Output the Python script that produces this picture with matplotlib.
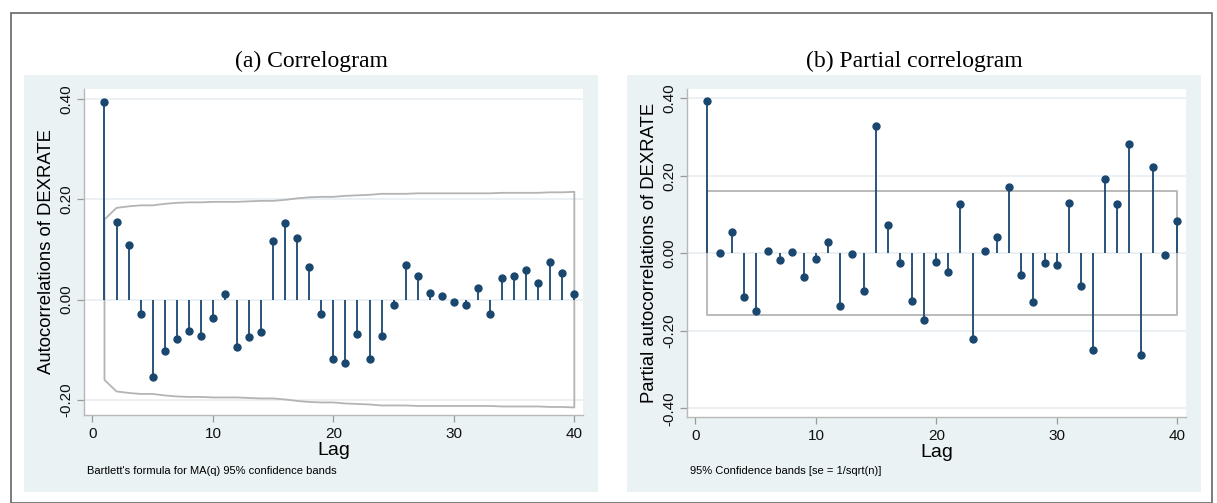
import matplotlib
matplotlib.use("Agg")
import matplotlib.pyplot as plt
from matplotlib.patches import Rectangle

# lags 1..40
lags = list(range(1, 41))

# autocorrelations
acf = [0.394, 0.155, 0.109, -0.028, -0.154, -0.103, -0.079, -0.063, -0.072, -0.037,
       0.011, -0.094, -0.075, -0.065, 0.117, 0.153, 0.123, 0.065, -0.029, -0.119,
       -0.126, -0.069, -0.119, -0.073, -0.010, 0.069, 0.048, 0.014, 0.007, -0.005,
       -0.011, 0.023, -0.028, 0.043, 0.048, 0.060, 0.033, 0.075, 0.054, 0.011]

# Bartlett band half-width
acf_band = [0.160, 0.183, 0.186, 0.188, 0.188, 0.191, 0.193, 0.194, 0.194, 0.195,
            0.195, 0.195, 0.196, 0.197, 0.197, 0.199, 0.202, 0.204, 0.205, 0.205,
            0.207, 0.208, 0.209, 0.211, 0.211, 0.211, 0.212, 0.212, 0.212, 0.212,
            0.212, 0.212, 0.212, 0.213, 0.213, 0.213, 0.213, 0.214, 0.214, 0.215]

# partial autocorrelations
pacf = [0.394, 0.001, 0.055, -0.112, -0.148, 0.005, -0.016, 0.003, -0.062, -0.014,
        0.029, -0.136, -0.002, -0.098, 0.329, 0.072, -0.026, -0.124, -0.171, -0.023,
        -0.047, 0.127, -0.222, 0.006, 0.041, 0.172, -0.056, -0.125, -0.026, -0.031,
        0.130, -0.084, -0.248, 0.192, 0.128, 0.281, -0.262, 0.222, -0.005, 0.083]

pacf_band = 0.16

acf_ticks = [-0.20, 0.00, 0.20, 0.40]
pacf_ticks = [-0.40, -0.20, 0.00, 0.20, 0.40]
lag_ticks = [0, 10, 20, 30, 40]

W, H = 1217, 503
NAVY = '#1a476f'
BG = '#eaf2f3'
GRID = '#e6eef1'
BAND = '#b4b4b4'
AXC = '#9a9a9a'
SANS = 'Liberation Sans'
SERIF = 'Liberation Serif'

fig = plt.figure(figsize=(W / 100, H / 100), dpi=100)
fig.patch.set_facecolor('white')


def box(x0, y0, x1, y1):
    # pixel box -> figure fraction rect
    return [x0 / W, 1 - y1 / H, (x1 - x0) / W, (y1 - y0) / H]


# outer frame and panel backgrounds
fig.patches.append(Rectangle((11 / W, 0), 1201 / W, 1 - 13 / H, transform=fig.transFigure,
                             facecolor='white', edgecolor='#666666', lw=1.2, zorder=0))
for x0, x1 in [(24, 598), (627, 1201)]:
    r = box(x0, 75, x1, 492)
    fig.patches.append(Rectangle((r[0], r[1]), r[2], r[3], transform=fig.transFigure,
                                 facecolor=BG, edgecolor='none', zorder=1))


def panel(rect, vals, ticks, ylim, ylabel, title, note, band_lo, band_hi, tx):
    ax = fig.add_axes(rect)
    ax.set_facecolor('white')
    ax.set_zorder(2)
    ax.fill_between(lags, band_lo, band_hi, facecolor='none', edgecolor=BAND, lw=1.3, zorder=2)
    ax.vlines(lags, 0, vals, color=NAVY, lw=1.3, zorder=3)
    ax.plot(lags, vals, 'o', color=NAVY, ms=5, zorder=4)
    for t in ticks:
        ax.axhline(t, color=GRID, lw=1.2, zorder=1)
    ax.set_xlim(-0.7, 40.72)
    ax.set_ylim(*ylim)
    ax.set_yticks(ticks)
    ax.set_yticklabels(['%.2f' % t for t in ticks], rotation=90, va='center',
                       fontsize=11, family=SANS)
    ax.set_xticks(lag_ticks)
    ax.set_xticklabels([str(t) for t in lag_ticks], fontsize=11, family=SANS)
    ax.tick_params(axis='both', colors=AXC, labelcolor='#111111', length=5, width=0.9)
    ax.tick_params(axis='x', pad=4)
    ax.tick_params(axis='y', pad=3)
    for s in ['top', 'right']:
        ax.spines[s].set_visible(False)
    for s in ['left', 'bottom']:
        ax.spines[s].set_color('#b8b8b8')
        ax.spines[s].set_linewidth(1.0)
    ax.set_ylabel(ylabel, fontsize=13.3, family=SANS, labelpad=3)
    ax.set_xlabel('Lag', fontsize=14, family=SANS, labelpad=0.5)
    fig.text(tx / W, 1 - 61 / H, title, ha='center', va='center', fontsize=17, family=SERIF)
    fig.text((rect[0] * W + 3) / W, 1 - 471 / H, note, ha='left', va='center',
             fontsize=8, family=SANS)
    return ax


panel(box(84, 89, 583, 415), acf, acf_ticks, (-0.23, 0.42),
      'Autocorrelations of DEXRATE', '(a) Correlogram',
      "Bartlett's formula for MA(q) 95% confidence bands",
      [-b for b in acf_band], acf_band, 311)

panel(box(687, 89, 1186, 417), pacf, pacf_ticks, (-0.422, 0.424),
      'Partial autocorrelations of DEXRATE', '(b) Partial correlogram',
      '95% Confidence bands [se = 1/sqrt(n)]',
      [-pacf_band] * len(lags), [pacf_band] * len(lags), 914)

fig.savefig('out.png', dpi=100)
